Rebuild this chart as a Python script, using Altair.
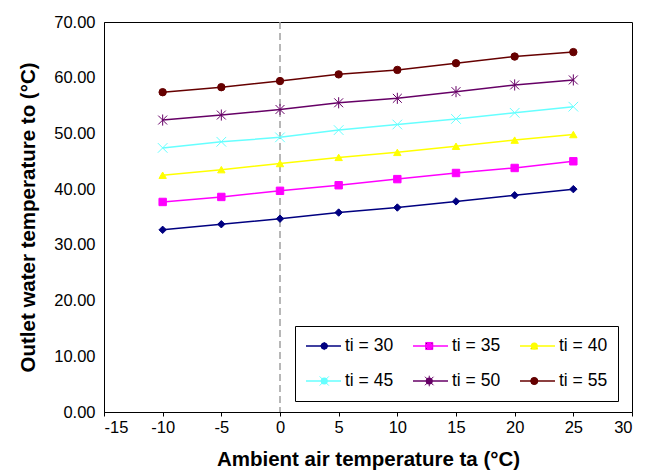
import altair as alt
import pandas as pd

ta = [-10, -5, 0, 5, 10, 15, 20, 25]
ti30 = [32.7, 33.7, 34.7, 35.8, 36.7, 37.8, 38.9, 40.0]
ti35 = [37.7, 38.6, 39.7, 40.7, 41.8, 42.9, 43.8, 45.0]
ti40 = [42.5, 43.5, 44.6, 45.7, 46.6, 47.7, 48.8, 49.8]
ti45 = [47.4, 48.5, 49.3, 50.6, 51.6, 52.6, 53.7, 54.8]
ti50 = [52.4, 53.3, 54.3, 55.5, 56.3, 57.5, 58.7, 59.6]
ti55 = [57.4, 58.3, 59.4, 60.6, 61.4, 62.6, 63.8, 64.6]

names = ["ti = 30", "ti = 35", "ti = 40", "ti = 45", "ti = 50", "ti = 55"]
series_vals = [ti30, ti35, ti40, ti45, ti50, ti55]
colors = ["#000080", "#FF00FF", "#FFFF00", "#66FFFF", "#660066", "#660000"]
shapes = [
    "diamond",
    "square",
    "triangle-up",
    "M-1.3,-1.3L1.3,1.3M-1.3,1.3L1.3,-1.3",
    "M-1.2,-1.2L1.2,1.2M-1.2,1.2L1.2,-1.2M0,-1.5L0,1.5",
    "circle",
]

x_ticks = list(range(-15, 31, 5))
y_ticks = list(range(0, 71, 10))

rows = []
for n, vals in zip(names, series_vals):
    for x, y in zip(ta, vals):
        rows.append({"ta": x, "to": y, "series": n, "series2": n})
df = pd.DataFrame(rows)

FONT = "Liberation Sans"

xenc = alt.X(
    "ta:Q",
    scale=alt.Scale(domain=[-15, 30], nice=False, zero=False),
    axis=alt.Axis(
        values=x_ticks,
        title="Ambient air temperature ta (°C)",
        labelExpr="'' + datum.value",
        grid=False,
        tickSize=4,
        labelPadding=3,
        titlePadding=14,
    ),
)
yenc = alt.Y(
    "to:Q",
    scale=alt.Scale(domain=[0, 70], nice=False),
    axis=alt.Axis(
        values=y_ticks,
        title="Outlet water temperature to (°C)",
        format=".2f",
        grid=False,
        ticks=False,
        labelPadding=9,
        titlePadding=15,
    ),
)

LX, LY = 191, 304

line_legend = alt.Legend(
    title=None,
    orient="none",
    legendX=LX,
    legendY=LY,
    direction="horizontal",
    columns=3,
    symbolType="stroke",
    symbolSize=1225,
    symbolStrokeWidth=1.5,
    labelFontSize=17.5,
    labelFont=FONT,
    labelColor="black",
    labelOffset=3,
    fillColor="white",
    strokeColor="black",
    padding=10,
    columnPadding=18,
    rowPadding=15,
    clipHeight=20,
    zindex=0,
)

# marker-only legend overlaid on the line legend (no visible labels)
pt_legend = alt.Legend(
    title=None,
    orient="none",
    legendX=LX,
    legendY=LY,
    direction="horizontal",
    columns=3,
    symbolSize=50,
    symbolStrokeWidth=1,
    labelFontSize=17.5,
    labelFont=FONT,
    labelExpr="''",
    symbolOffset=10.5,
    labelOffset=59,
    padding=10,
    columnPadding=18,
    rowPadding=15,
    clipHeight=20,
    zindex=1,
)

base = alt.Chart(df)

lines = base.mark_line(strokeWidth=1.5).encode(
    x=xenc,
    y=yenc,
    color=alt.Color(
        "series:N",
        scale=alt.Scale(domain=names, range=colors),
        legend=line_legend,
    ),
    detail="series:N",
)

points = base.mark_point(filled=True, size=55, strokeWidth=1, opacity=1).encode(
    x="ta:Q",
    y="to:Q",
    fill=alt.Fill("series2:N", scale=alt.Scale(domain=names, range=colors), legend=pt_legend),
    stroke=alt.Stroke("series2:N", scale=alt.Scale(domain=names, range=colors), legend=pt_legend),
    shape=alt.Shape("series2:N", scale=alt.Scale(domain=names, range=shapes), legend=pt_legend),
)

zero_line = alt.Chart(pd.DataFrame({"ta": [0]})).mark_rule(
    color="#a0a0a0", strokeDash=[7, 4], strokeWidth=1.5
).encode(x="ta:Q")

chart = (
    alt.layer(zero_line, lines, points)
    .resolve_legend(color="independent", fill="independent")
    .properties(
        width=528,
        height=390,
        autosize=alt.AutoSizeParams(type="none"),
        padding={"left": 96, "top": 14, "right": 19, "bottom": 64},
        background="white",
    )
    .configure_view(stroke="black", strokeWidth=1)
    .configure_axis(
        domainColor="black",
        domainWidth=1,
        tickColor="black",
        labelFont=FONT,
        labelFontSize=16.5,
        labelColor="black",
        titleFont=FONT,
        titleFontSize=20.5,
        titleFontWeight="bold",
        titleColor="black",
    )
)

chart.save("out.html", embed_options={"renderer": "svg", "actions": False})
